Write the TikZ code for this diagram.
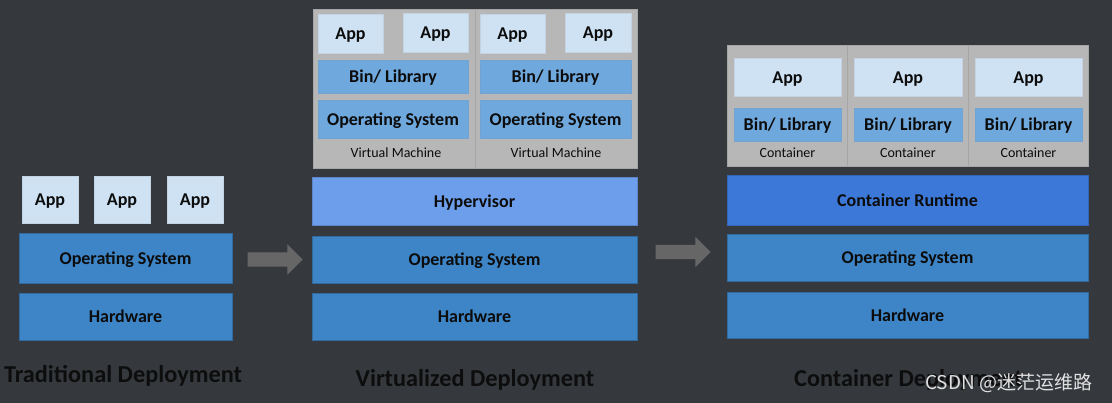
\documentclass[tikz,border=0pt]{standalone}
\usepackage{fontspec}
\setmainfont{Carlito}
\newfontfamily\cjk{Noto Sans CJK SC}
\usetikzlibrary{shapes.arrows}
\definecolor{bg}{RGB}{53,57,62}
\definecolor{osblue}{RGB}{61,133,198}
\definecolor{applight}{RGB}{207,226,243}
\definecolor{libblue}{RGB}{111,168,220}
\definecolor{hypblue}{RGB}{109,158,235}
\definecolor{rtblue}{RGB}{60,120,216}
\definecolor{vmgray}{RGB}{183,183,183}
\definecolor{arrgray}{RGB}{102,102,102}
\definecolor{txt}{RGB}{12,12,12}
\definecolor{wm}{RGB}{225,225,225}
\tikzset{
  blk/.style={inner sep=0pt, outer sep=0pt, font=\bfseries\fontsize{18}{20}\selectfont, text=txt, text height=14pt, text depth=1pt},
  osbox/.style={blk, fill=osblue, draw=osblue!80!black, line width=0.6pt},
  appbox/.style={blk, fill=applight, draw=applight!85!gray, line width=0.6pt},
  libbox/.style={blk, fill=libblue, draw=libblue!90!gray, line width=0.4pt},
  hypbox/.style={blk, fill=hypblue, draw=hypblue!85!black, line width=0.6pt},
  rtbox/.style={blk, fill=rtblue, draw=rtblue!85!black, line width=0.6pt},
  vmbox/.style={blk, fill=vmgray, draw=gray!70, line width=0.8pt},
  sublabel/.style={inner sep=0pt, font=\fontsize{14}{16}\selectfont, text=txt},
  title/.style={inner sep=0pt, anchor=base, font=\bfseries\fontsize{24.3}{28}\selectfont, text=black!95},
  bigarrow/.style={single arrow, fill=arrgray, draw=none, inner sep=0pt, minimum height=55pt, minimum width=30pt, single arrow head extend=8pt, text width=0pt, text height=14pt, text depth=0pt, single arrow tip angle=90}
}
\newcommand{\blk}[7]{\node[#6, minimum width={(#4-#2)*1pt}, minimum height={(#5-#3)*1pt}] (#1) at ({(#2+#4)/2},{(#3+#5)/2}) {#7};}
\begin{document}
\begin{tikzpicture}[x=1pt,y=-1pt]
\fill[bg] (0,0) rectangle (1112,403);
\useasboundingbox (0,0) rectangle (1112,403);

% Traditional
\blk{tapp1}{22}{176}{78}{223}{appbox}{App}
\blk{tapp2}{94}{176}{150}{223}{appbox}{App}
\blk{tapp3}{167}{176}{223}{223}{appbox}{App}
\blk{tos}{19}{233}{232}{283}{osbox}{Operating System}
\blk{thw}{19}{293}{232}{340}{osbox}{Hardware}
\node[title] (ttitle) at (123,383) {Traditional Deployment};

% Arrow 1
\node[bigarrow] (arr1) at (271.5,259.5) {};

% Virtualized
\blk{vm1}{313}{9}{475}{168}{vmbox}{}
\blk{vm2}{475}{9}{637}{168}{vmbox}{}
\blk{vapp1}{318}{14}{383}{53}{appbox}{App}
\blk{vapp2}{403}{13}{468}{52}{appbox}{App}
\blk{vapp3}{480}{14}{545}{53}{appbox}{App}
\blk{vapp4}{565}{13}{631}{52}{appbox}{App}
\blk{vlib1}{318}{60}{468}{93}{libbox}{Bin/ Library}
\blk{vlib2}{480}{60}{631}{93}{libbox}{Bin/ Library}
\blk{vos1}{318}{100}{468}{138}{libbox}{Operating System}
\blk{vos2}{480}{100}{631}{138}{libbox}{Operating System}
\node[sublabel] (vml1) at (396,153) {Virtual Machine};
\node[sublabel] (vml2) at (556,153) {Virtual Machine};
\blk{hyp}{312}{177}{637}{225}{hypbox}{Hypervisor}
\blk{vos}{312}{236}{637}{283}{osbox}{Operating System}
\blk{vhw}{312}{293}{637}{340}{osbox}{Hardware}
\node[title] (vtitle) at (475,387) {Virtualized Deployment};

% Arrow 2
\node[bigarrow] (arr2) at (679.5,252) {};

% Container
\blk{c1}{727}{45}{847}{166}{vmbox}{}
\blk{c2}{847}{45}{968}{166}{vmbox}{}
\blk{c3}{968}{45}{1088}{166}{vmbox}{}
\blk{capp1}{734}{58}{841}{96}{appbox}{App}
\blk{capp2}{854}{58}{962}{96}{appbox}{App}
\blk{capp3}{975}{58}{1082}{96}{appbox}{App}
\blk{clib1}{734}{108}{841}{141}{libbox}{Bin/ Library}
\blk{clib2}{854}{108}{962}{141}{libbox}{Bin/ Library}
\blk{clib3}{975}{108}{1082}{141}{libbox}{Bin/ Library}
\node[sublabel] (cl1) at (787.5,153) {Container};
\node[sublabel] (cl2) at (908,153) {Container};
\node[sublabel] (cl3) at (1028.5,153) {Container};
\blk{crt}{727}{175}{1088}{225}{rtbox}{Container Runtime}
\blk{cos}{727}{234}{1088}{281}{osbox}{Operating System}
\blk{chw}{727}{292}{1088}{338}{osbox}{Hardware}
\node[title, anchor=base west] (ctitle) at (794,387) {Container Deployment};

% Watermark
\node[anchor=base west, inner sep=0pt, text=wm, font=\cjk\fontsize{19}{22}\selectfont] (wmk) at (925,390) {CSDN @迷茫运维路};
\end{tikzpicture}
\end{document}
